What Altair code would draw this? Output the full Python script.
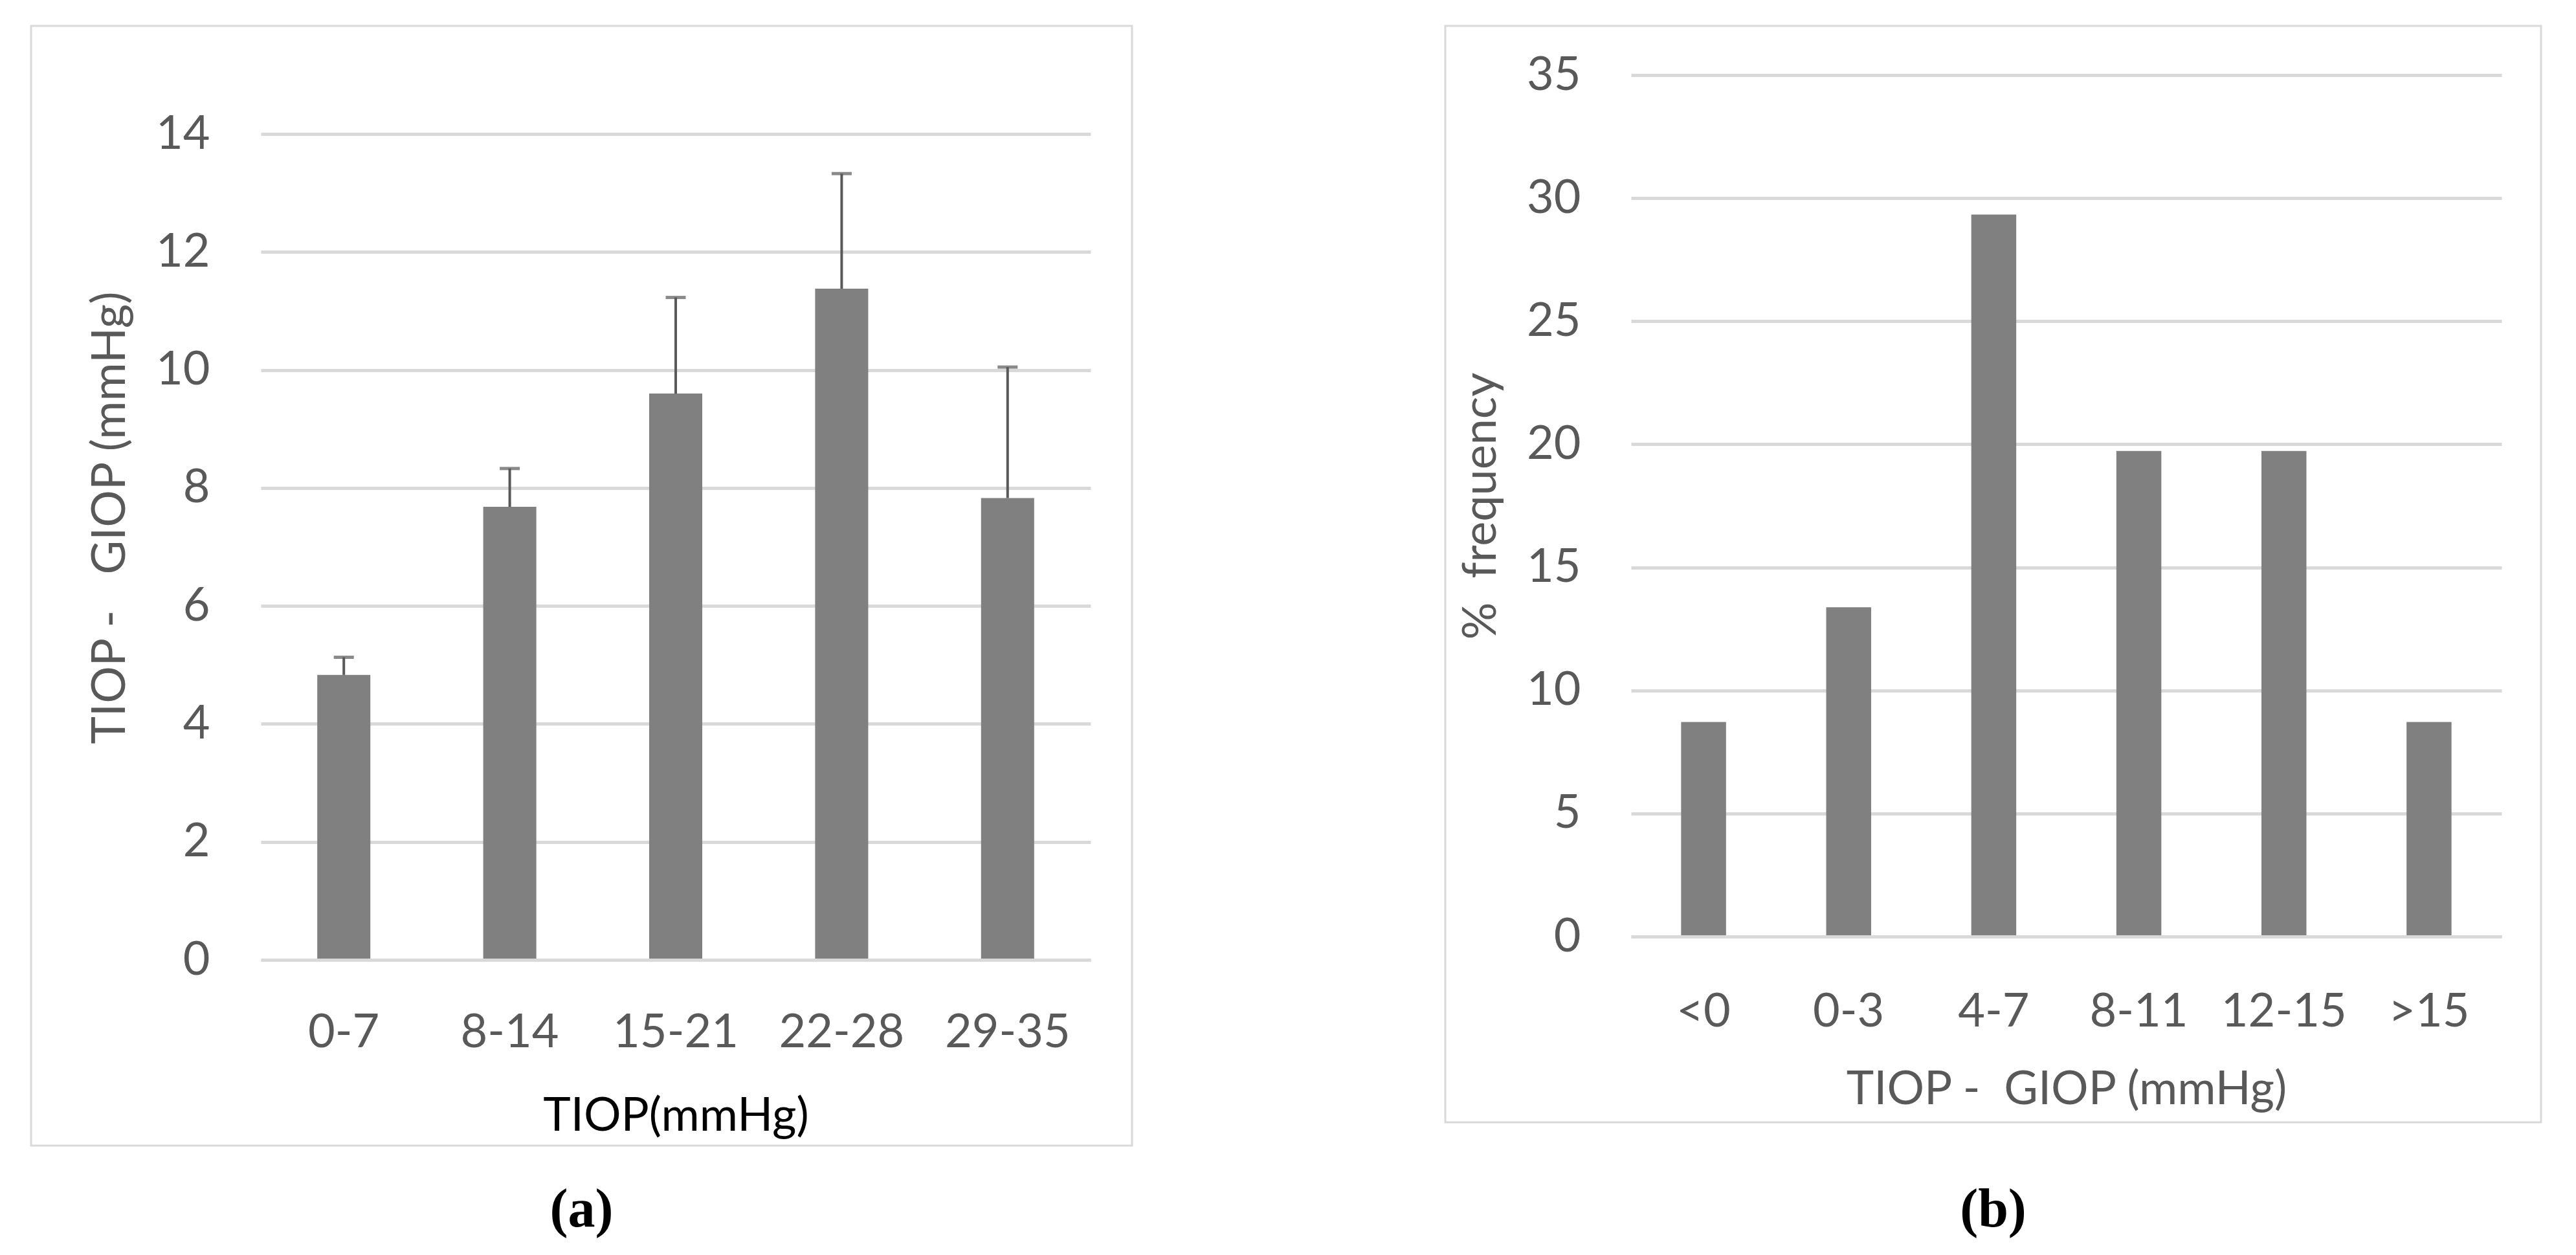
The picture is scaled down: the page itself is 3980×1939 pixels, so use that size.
import altair as alt
import pandas as pd

# ---- data ----
a_cats = ["0-7", "8-14", "15-21", "22-28", "29-35"]
a_means = [4.83, 7.68, 9.60, 11.38, 7.83]
a_err_top = [5.13, 8.33, 11.23, 13.33, 10.05]
a_ticks = [0, 2, 4, 6, 8, 10, 12, 14]

b_cats = ["<0", "0-3", "4-7", "8-11", "12-15", ">15"]
b_freq = [8.72, 13.38, 29.33, 19.73, 19.73, 8.72]
b_ticks = [0, 5, 10, 15, 20, 25, 30, 35]

FONT = "Lato"
TXT = "#595959"
GRID = "#d9d9d9"
BAR = "#808080"
ERR = "#595959"

df_a = pd.DataFrame({"cat": a_cats, "mean": a_means, "top": a_err_top})
df_b = pd.DataFrame({"cat": b_cats, "freq": b_freq})
one = pd.DataFrame({"k": [0]})

# panel (a): plot area top aligned with panel (b); the domain runs to 15 so that
# the 14 gridline sits lower, as in the reference
WA, HA = 1282, 1367
WB, HB = 1345, 1331

# ---------- panel (a) ----------
xa_axis = alt.Axis(title="TIOP(mmHg)", titleColor="#000000", labelAngle=0,
                   ticks=False, tickSize=0, labelPadding=77, titlePadding=58,
                   labelLimit=0, domainColor=GRID, domainWidth=5, grid=False, zindex=1)
ya_axis = alt.Axis(title="TIOP -\u00a0\u00a0 GIOP (mmHg)", values=a_ticks, grid=True,
                   gridColor=GRID, gridWidth=5, domain=False, ticks=False,
                   tickSize=0, labelPadding=79, titlePadding=33)
xa_scale = alt.Scale(paddingInner=0.68, paddingOuter=0.34)
ya_scale = alt.Scale(domain=[0, 15])

frame_a = alt.Chart(one).mark_rect(fillOpacity=0, stroke=GRID, strokeWidth=3).encode(
    x=alt.value(-355), x2=alt.value(WA + 64), y=alt.value(-76), y2=alt.value(HA + 287))

bars_a = alt.Chart(df_a).mark_bar(color=BAR).encode(
    x=alt.X("cat:N", sort=a_cats, scale=xa_scale, axis=xa_axis),
    y=alt.Y("mean:Q", scale=ya_scale, axis=ya_axis))
rule_a = alt.Chart(df_a).mark_rule(color=ERR, strokeWidth=4).encode(
    x=alt.X("cat:N", sort=a_cats, scale=xa_scale, axis=xa_axis),
    y=alt.Y("mean:Q", scale=ya_scale, axis=ya_axis), y2="top:Q")
cap_a = alt.Chart(df_a).mark_tick(color=ERR, size=31, thickness=5).encode(
    x=alt.X("cat:N", sort=a_cats, scale=xa_scale, axis=xa_axis),
    y=alt.Y("top:Q", scale=ya_scale, axis=ya_axis))

left = alt.layer(frame_a, bars_a, rule_a, cap_a).properties(
    width=WA, height=HA,
    title=alt.TitleParams("(a)", orient="bottom", anchor="middle", frame="bounds",
                          font="Liberation Serif", fontSize=84, fontWeight="bold",
                          color="#000000", offset=57))

# ---------- panel (b) ----------
xb_axis = alt.Axis(title="TIOP -\u00a0 GIOP (mmHg)", labelAngle=0, ticks=False, tickSize=0,
                   labelPadding=81, titlePadding=49, labelLimit=0, domainColor=GRID,
                   domainWidth=5, grid=False, zindex=1)
yb_axis = alt.Axis(title="%\u00a0 frequency", values=b_ticks, grid=True, gridColor=GRID,
                   gridWidth=5, domain=False, ticks=False, tickSize=0,
                   labelPadding=78, titlePadding=33)

frame_b = alt.Chart(one).mark_rect(fillOpacity=0, stroke=GRID, strokeWidth=3).encode(
    x=alt.value(-287), x2=alt.value(WB + 61), y=alt.value(-76), y2=alt.value(HB + 287))
bars_b = alt.Chart(df_b).mark_bar(color=BAR).encode(
    x=alt.X("cat:N", sort=b_cats, scale=alt.Scale(paddingInner=0.69, paddingOuter=0.345),
            axis=xb_axis),
    y=alt.Y("freq:Q", scale=alt.Scale(domain=[0, 35]), axis=yb_axis))

right = alt.layer(frame_b, bars_b).properties(
    width=WB, height=HB,
    title=alt.TitleParams("(b)", orient="bottom", anchor="middle", frame="bounds",
                          font="Liberation Serif", fontSize=84, fontWeight="bold",
                          color="#000000", offset=93))

chart = alt.hconcat(left, right, spacing=480).properties(
    padding={"left": 38, "top": 30, "right": 5, "bottom": 5},
    background="white",
).configure_view(stroke=None).configure_axis(
    labelFont=FONT, titleFont=FONT, labelFontSize=72, titleFontSize=72,
    labelColor=TXT, titleColor=TXT, titleFontWeight="normal")

chart.save("out.html", embed_options={"renderer": "svg", "actions": False})
